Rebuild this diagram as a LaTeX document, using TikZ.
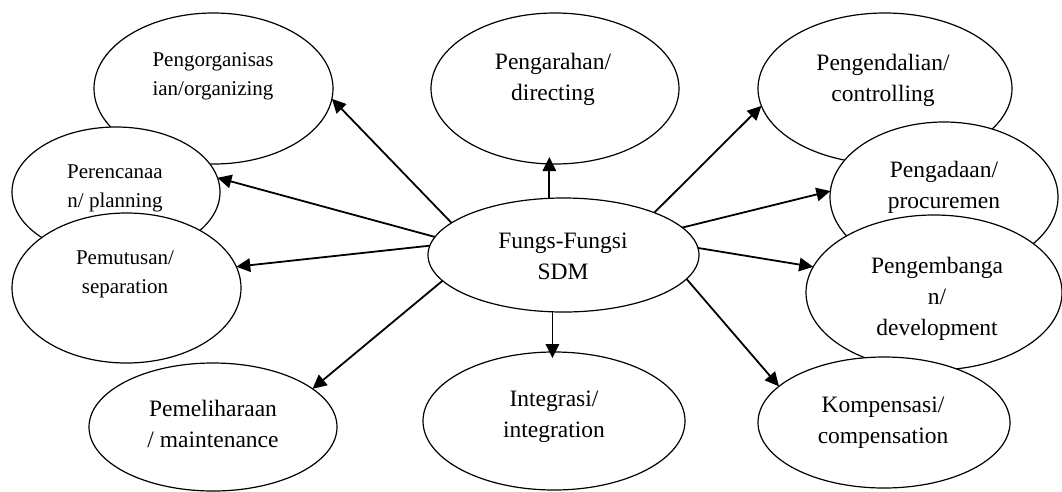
\documentclass[tikz,border=0pt]{standalone}
\usepackage{fontspec}
\setmainfont{Liberation Serif}
\usetikzlibrary{shapes.geometric,arrows.meta}
\begin{document}
\begin{tikzpicture}[x=1pt,y=-1pt,
  ell/.style={draw,ellipse,fill=white,line width=1.2pt,inner sep=0pt,outer sep=0pt},
  big/.style={align=center,anchor=base,font=\fontsize{23.5}{30.8}\selectfont,inner sep=0pt},
  small/.style={align=center,anchor=base,font=\fontsize{21}{29}\selectfont,inner sep=0pt},
  arr/.style={line width=1.8pt,-{Triangle[length=14pt,width=13.5pt]}}]
\useasboundingbox (0,0) rectangle (1062,491);
% ellipses (drawing order matters for overlaps)
\node[ell,minimum width=239,minimum height=151] (org) at (213.5,88.5) {};
\node[ell,minimum width=208,minimum height=130] (pln) at (116,192) {};
\node[ell,minimum width=229,minimum height=150] (sep) at (126.5,288) {};
\node[ell,minimum width=248,minimum height=151] (dir) at (555,88.5) {};
\node[ell,minimum width=254,minimum height=151] (ctl) at (885,88.5) {};
\node[ell,minimum width=228,minimum height=150] (prc) at (944,197) {};
\node[ell,minimum width=256,minimum height=155] (dev) at (934,292.5) {};
\node[ell,minimum width=252,minimum height=131] (cmp) at (884,422.5) {};
\node[ell,minimum width=248,minimum height=128] (mnt) at (213,427) {};
\node[ell,minimum width=262,minimum height=138] (int) at (554,421) {};
\node[ell,minimum width=271,minimum height=114] (fs) at (563.5,255) {};
% texts (anchored at the baseline of the last line)
\node[small] (torg) at (213,95) {Pengorganisas\\ian/organizing};
\node[small] (tpln) at (115,207) {Perencanaa\\n/ planning};
\node[small] (tsep) at (125,293) {Pemutusan/\\separation};
\node[big] (tdir) at (553,100) {Pengarahan/\\directing};
\node[big] (tctl) at (883,101) {Pengendalian/\\controlling};
\node[big] (tprc) at (944,208) {Pengadaan/\\procuremen};
\node[big] (tdev) at (937,335) {Pengembanga\\n/\\development};
\node[big] (tfs) at (563,279) {Fungs-Fungsi\\SDM};
\node[big] (tmnt) at (213,447) {Pemeliharaan\\/ maintenance};
\node[big] (tint) at (554,437) {Integrasi/\\integration};
\node[big] (tcmp) at (883,443) {Kompensasi/\\compensation};
% connectors
\draw[arr] (fs.164) -- (org.-5.7);
\draw[arr] (fs.172.3) -- (pln.8.4);
\draw[arr] (fs.176.6) -- (sep.11.3);
\draw[arr] (fs.-168.2) -- (mnt.21.5);
\coordinate (dtip) at ([yshift=7pt]dir.south);
\draw[arr] (fs.104.7) -- (fs.104.7 |- dtip);
\coordinate (itip) at ([yshift=-6pt]int.north);
\draw[arr] (fs.-101.9) -- (fs.-101.9 |- itip);
\draw[arr] (fs.25) -- (ctl.-172.2);
\draw[arr] (fs.13.1) -- (prc.177.5);
\draw[arr] (fs.3.4) -- (dev.168.6);
\draw[arr] (fs.-11.1) -- (cmp.161.3);
\end{tikzpicture}
\end{document}
